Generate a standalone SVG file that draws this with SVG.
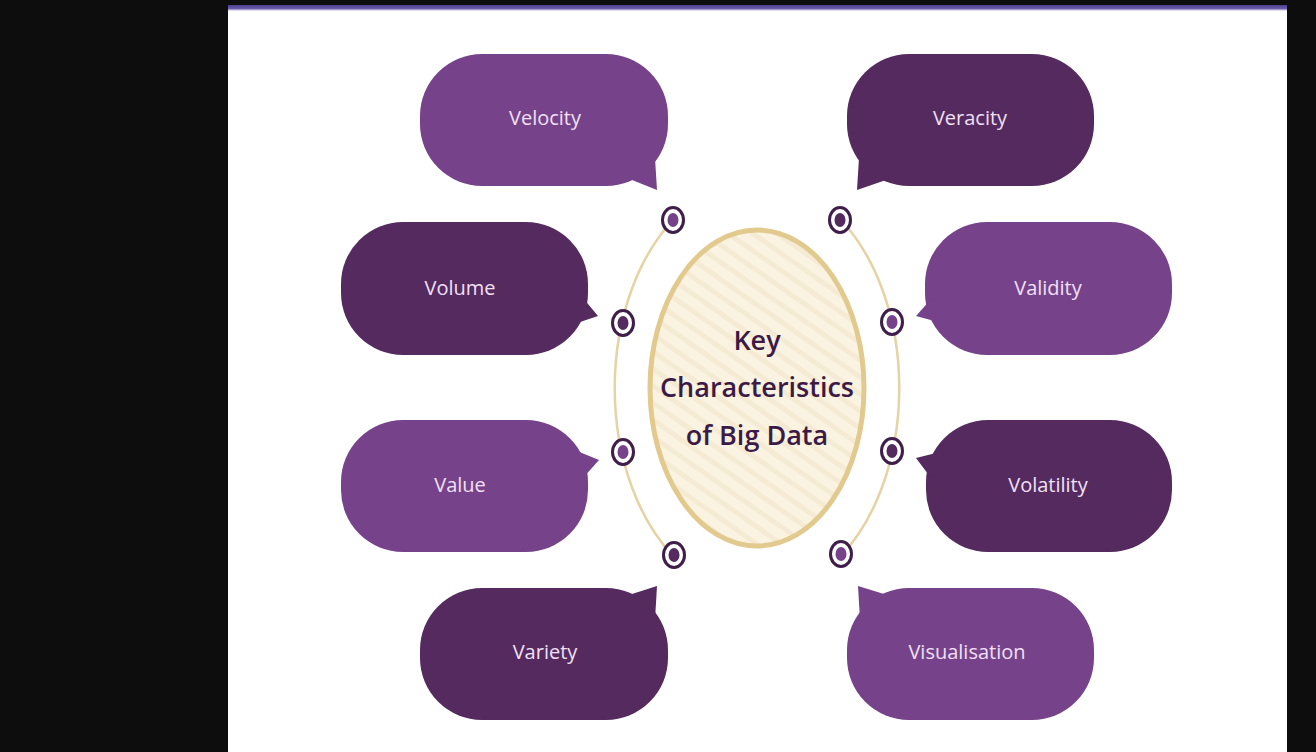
<svg xmlns="http://www.w3.org/2000/svg" width="1316" height="752" viewBox="0 0 1316 752">
<defs>
<pattern id="stripes" patternUnits="userSpaceOnUse" width="14" height="14" patternTransform="rotate(-55)">
<rect width="14" height="14" fill="#fbf3e2"/>
<rect width="5" height="14" fill="#f5ead3"/>
</pattern>
<linearGradient id="bar" x1="0" y1="0" x2="0" y2="1">
<stop offset="0" stop-color="#4c3f8f"/>
<stop offset="0.6" stop-color="#6a5ca8"/>
<stop offset="1" stop-color="#ffffff"/>
</linearGradient>
</defs>
<style>
.light{fill:#76428a}
.dark{fill:#542a5f}
.lbl{font-family:"Open Sans","Noto Sans",sans-serif;font-size:20px;fill:#f2e0f6;text-anchor:middle;dominant-baseline:central}
.ctr{font-family:"Open Sans","Noto Sans",sans-serif;font-size:27px;font-weight:600;fill:#3b1b45;text-anchor:middle}
.arc{fill:none;stroke:#e6d3a3;stroke-width:2.5}
.ring{fill:#ffffff;stroke:#3f1f4a;stroke-width:3}
</style>
<rect width="1316" height="752" fill="#0d0d0d"/>
<rect x="228" y="5" width="1059" height="747" fill="#ffffff"/>
<rect x="228" y="5" width="1059" height="6" fill="url(#bar)"/>

<g id="connectors">
<path class="arc" d="M673,220 A142,208 0 0,0 673,556"/>
<path class="arc" d="M841,220 A142,208 0 0,1 841,556"/>
</g>

<g id="center">
<ellipse cx="757" cy="388" rx="107" ry="158" fill="url(#stripes)" stroke="#e2c98e" stroke-width="5"/>
<text class="ctr" x="757" y="350">Key</text>
<text class="ctr" x="757" y="397">Characteristics</text>
<text class="ctr" x="757" y="445">of Big Data</text>
</g>

<g id="markers">
<g id="m-velocity"><ellipse class="ring" cx="673" cy="220" rx="10.5" ry="12.5"/><ellipse cx="673" cy="220" rx="5.5" ry="7" class="light"/></g>
<g id="m-volume"><ellipse class="ring" cx="623" cy="323" rx="10.5" ry="12.5"/><ellipse cx="623" cy="323" rx="5.5" ry="7" class="dark"/></g>
<g id="m-value"><ellipse class="ring" cx="623" cy="452" rx="10.5" ry="12.5"/><ellipse cx="623" cy="452" rx="5.5" ry="7" class="light"/></g>
<g id="m-variety"><ellipse class="ring" cx="674" cy="555" rx="10.5" ry="12.5"/><ellipse cx="674" cy="555" rx="5.5" ry="7" class="dark"/></g>
<g id="m-veracity"><ellipse class="ring" cx="840" cy="220" rx="10.5" ry="12.5"/><ellipse cx="840" cy="220" rx="5.5" ry="7" class="dark"/></g>
<g id="m-validity"><ellipse class="ring" cx="892" cy="322" rx="10.5" ry="12.5"/><ellipse cx="892" cy="322" rx="5.5" ry="7" class="light"/></g>
<g id="m-volatility"><ellipse class="ring" cx="892" cy="451" rx="10.5" ry="12.5"/><ellipse cx="892" cy="451" rx="5.5" ry="7" class="dark"/></g>
<g id="m-visualisation"><ellipse class="ring" cx="841" cy="554" rx="10.5" ry="12.5"/><ellipse cx="841" cy="554" rx="5.5" ry="7" class="light"/></g>
</g>

<g id="velocity">
<rect class="light" x="420" y="54" width="248" height="132" rx="62" ry="62"/>
<polygon class="light" points="632,180 657,190 655,158"/>
<text class="lbl" x="545" y="117">Velocity</text>
</g>
<g id="veracity">
<rect class="dark" x="847" y="54" width="247" height="132" rx="62" ry="62"/>
<polygon class="dark" points="886,180 857,190 859,158"/>
<text class="lbl" x="970" y="117">Veracity</text>
</g>
<g id="volume">
<rect class="dark" x="341" y="222" width="247" height="133" rx="62" ry="62"/>
<polygon class="dark" points="583,298 598,316 580,322"/>
<text class="lbl" x="460" y="287">Volume</text>
</g>
<g id="validity">
<rect class="light" x="925" y="222" width="247" height="133" rx="62" ry="62"/>
<polygon class="light" points="932,298 916,316 938,322"/>
<text class="lbl" x="1048" y="287">Validity</text>
</g>
<g id="value">
<rect class="light" x="341" y="420" width="247" height="132" rx="62" ry="62"/>
<polygon class="light" points="577,451 599,460 583,478"/>
<text class="lbl" x="460" y="484">Value</text>
</g>
<g id="volatility">
<rect class="dark" x="926" y="420" width="246" height="132" rx="62" ry="62"/>
<polygon class="dark" points="944,451 916,458 931,478"/>
<text class="lbl" x="1048" y="484">Volatility</text>
</g>
<g id="variety">
<rect class="dark" x="420" y="588" width="248" height="132" rx="62" ry="62"/>
<polygon class="dark" points="632,594 657,586 655,620"/>
<text class="lbl" x="545" y="651">Variety</text>
</g>
<g id="visualisation">
<rect class="light" x="847" y="588" width="247" height="132" rx="62" ry="62"/>
<polygon class="light" points="884,594 858,586 860,620"/>
<text class="lbl" x="967" y="651">Visualisation</text>
</g>
</svg>
